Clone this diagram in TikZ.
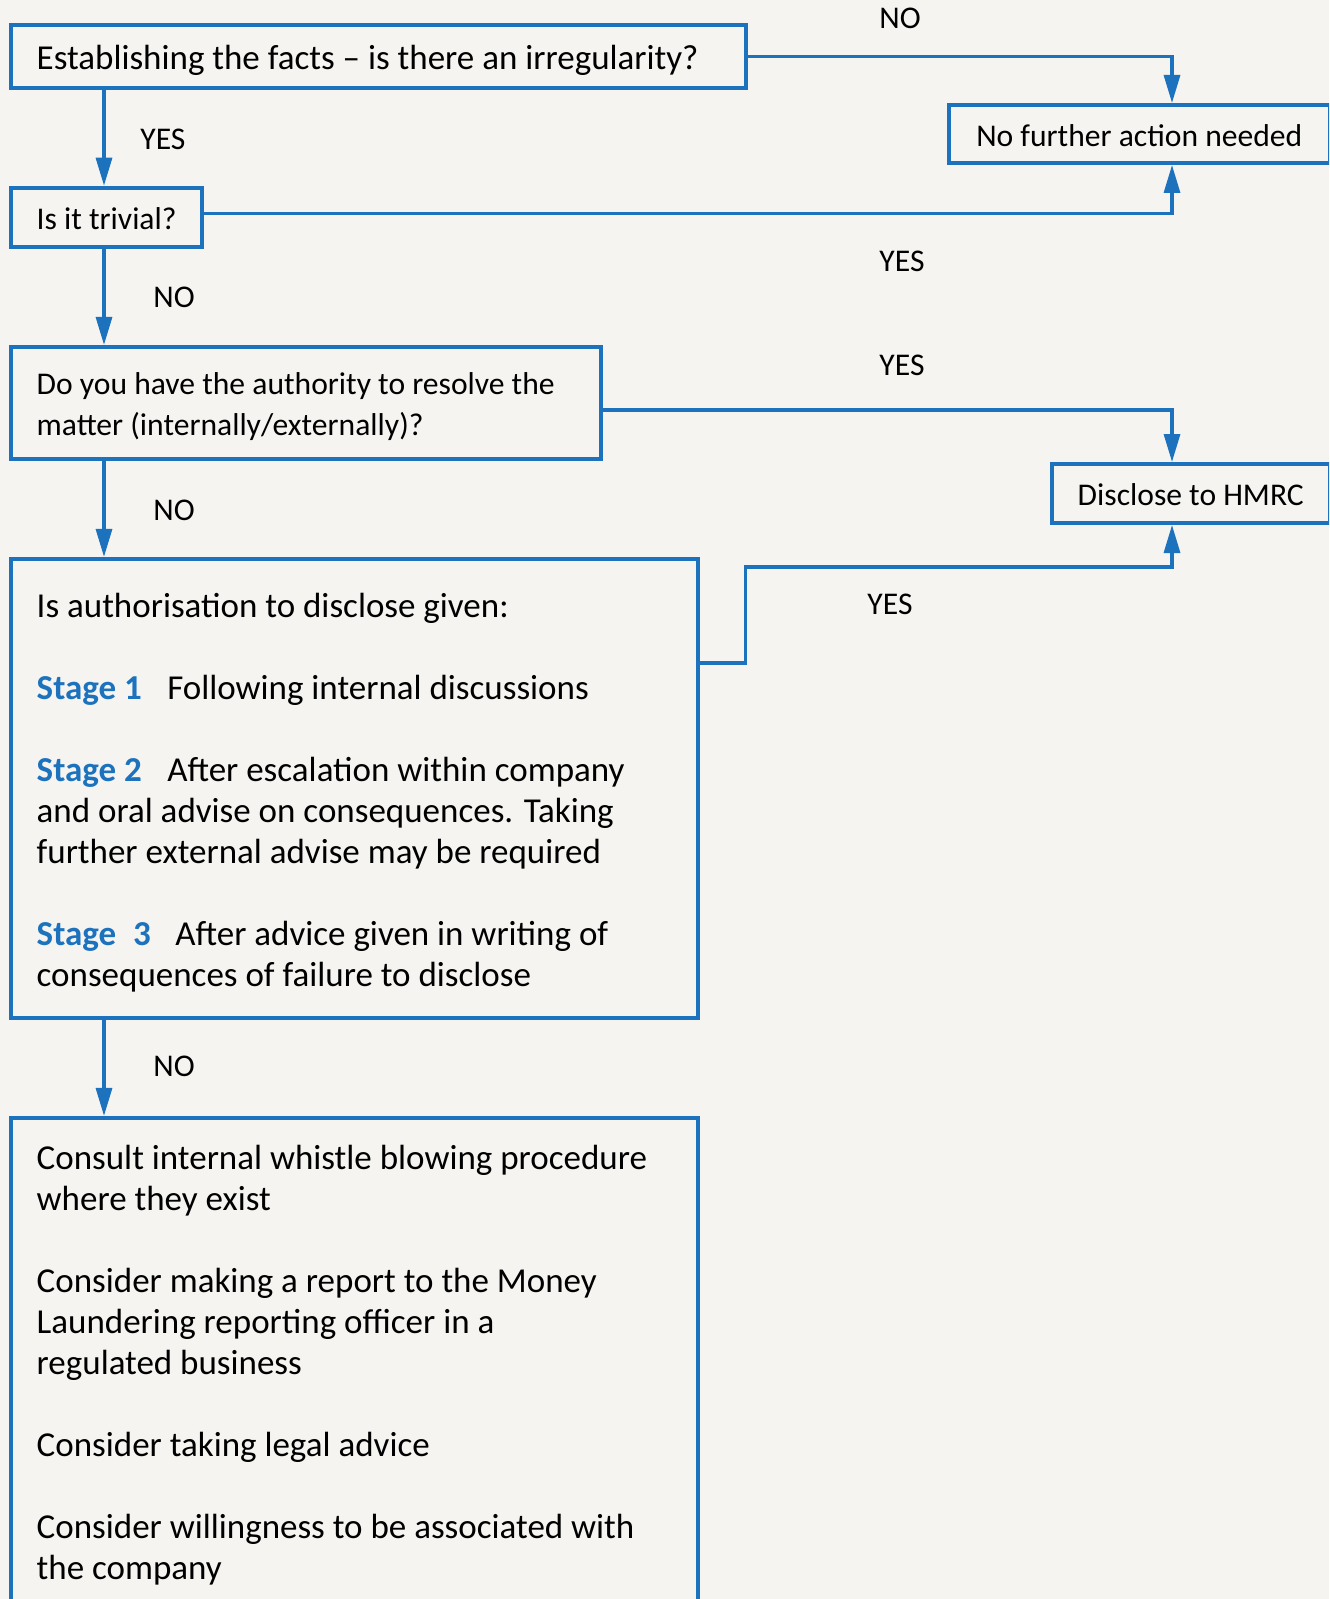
\documentclass[tikz,border=0pt]{standalone}
\usepackage{fontspec}
\setmainfont{Carlito}
\usetikzlibrary{arrows.meta, positioning}
\definecolor{flowblue}{RGB}{28,114,189}
\definecolor{pagebg}{RGB}{245,244,241}
\newcommand{\bigtxt}{\fontsize{17.5pt}{20.5pt}\selectfont}
\newcommand{\smalltxt}{\fontsize{15.8pt}{20.5pt}\selectfont}
\newcommand{\stagelabel}[1]{\textcolor{flowblue}{\textbf{#1}}}
\tikzset{
    box/.style={
        rectangle, draw=flowblue, line width=2pt, inner xsep=12.85pt, font=\smalltxt
    },
    linebox/.style={box, text height=12.4pt, text depth=0pt},
    textbox/.style={box, align=flush left, font=\bigtxt},
    answer/.style={font=\smalltxt, inner sep=0pt, anchor=west},
    arrow/.style={draw=flowblue, line width=1.6pt, -{Triangle[length=14pt, width=8pt]}}
}

\begin{document}
\begin{tikzpicture}[x=0.5pt, y=-0.5pt, node distance=48pt]
    \useasboundingbox (0,0) rectangle (1329,1599);
    \clip (0,0) rectangle (1329,1599);
    \fill [pagebg] (0,0) rectangle (1329,1599);
    \coordinate (spine) at (104,0);
    \coordinate (rail) at (1172,0);
    \node (facts) [linebox, align=flush left, font=\bigtxt, text height=12.5pt, anchor=north west, text width=341.55pt, minimum height=31.1pt] at (9,23.5) {\mbox{Establishing the facts – is there an irregularity?}};
    \node (trivial) [linebox, below=of facts.south west, anchor=north west, minimum width=95pt, minimum height=29.6pt] {Is it trivial?};
    \node (authority) [box, align=flush left, below=of trivial.south west, anchor=north west, text width=269.3pt, minimum height=56pt] {\rule{0pt}{14.5pt}Do you have the authority to resolve the\\ matter (internally/externally)?};
    \node (stages) [textbox, below=of authority.south west, anchor=north west, text width=317.6pt, minimum height=229.5pt] {\rule{0pt}{16pt}Is authorisation to disclose given:\\[20.5pt]
        \stagelabel{Stage 1}\hspace{12.75pt}Following internal discussions\\[20.5pt]
        \stagelabel{Stage 2}\hspace{12.75pt}After escalation within company\\
        and oral advise on consequences. Taking\\
        further external advise may be required\\[20.5pt]
        \stagelabel{Stage\hspace{8.5pt}3}\hspace{12.25pt}After advice given in writing of\\
        consequences of failure to disclose};
    \node (actions) [textbox, below=of stages.south west, anchor=north west, text width=317.6pt, inner ysep=13.75pt] {Consult internal whistle blowing procedure\\
        where they exist\\[20.5pt]
        Consider making a report to the Money\\
        Laundering reporting officer in a\\
        regulated business\\[20.5pt]
        Consider taking legal advice\\[20.5pt]
        Consider willingness to be associated with\\
        the company\\[20.5pt]\mbox{}};
    \node (nfa) [linebox, anchor=north west, minimum width=190.75pt, minimum height=29pt] at (946.5,103) {No further action needed};
    \node (hmrc) [linebox, anchor=north west, minimum width=139.25pt, minimum height=29.5pt] at (1049.5,462) {Disclose to HMRC};
    % answers on the connectors
    \node (noirreg) [answer, anchor=center] at (900,18) {NO};
    \node (yestrivial) [answer, anchor=center] at (902,261) {YES};
    \node (yesauth) [answer, anchor=center] at (902,365) {YES};
    \node (yesgiven) [answer, anchor=center] at (890,604) {YES};
    \node (yesfacts) [answer] at (140,139) {YES};
    \node (notrivial) [answer] at (153,297) {NO};
    \node (noauth) [answer] at (153,510) {NO};
    \node (nogiven) [answer] at (153,1066) {NO};
    % connectors
    \draw [arrow] (spine |- facts.south) -- (spine |- trivial.north);
    \draw [arrow] (spine |- trivial.south) -- (spine |- authority.north);
    \draw [arrow] (spine |- authority.south) -- (spine |- stages.north);
    \draw [arrow] (spine |- stages.south) -- (spine |- actions.north);
    \draw [arrow] (facts.east) -| (rail |- nfa.north);
    \draw [arrow] ([yshift=2pt]trivial.east) -| (rail |- nfa.south);
    \draw [arrow] ([yshift=-3.5pt]authority.east) -| (rail |- hmrc.north);
    \coordinate (jog) at (745.6,567);
    \draw [arrow] ([yshift=62.75pt]stages.east) -| (jog) -| (rail |- hmrc.south);
\end{tikzpicture}
\end{document}
